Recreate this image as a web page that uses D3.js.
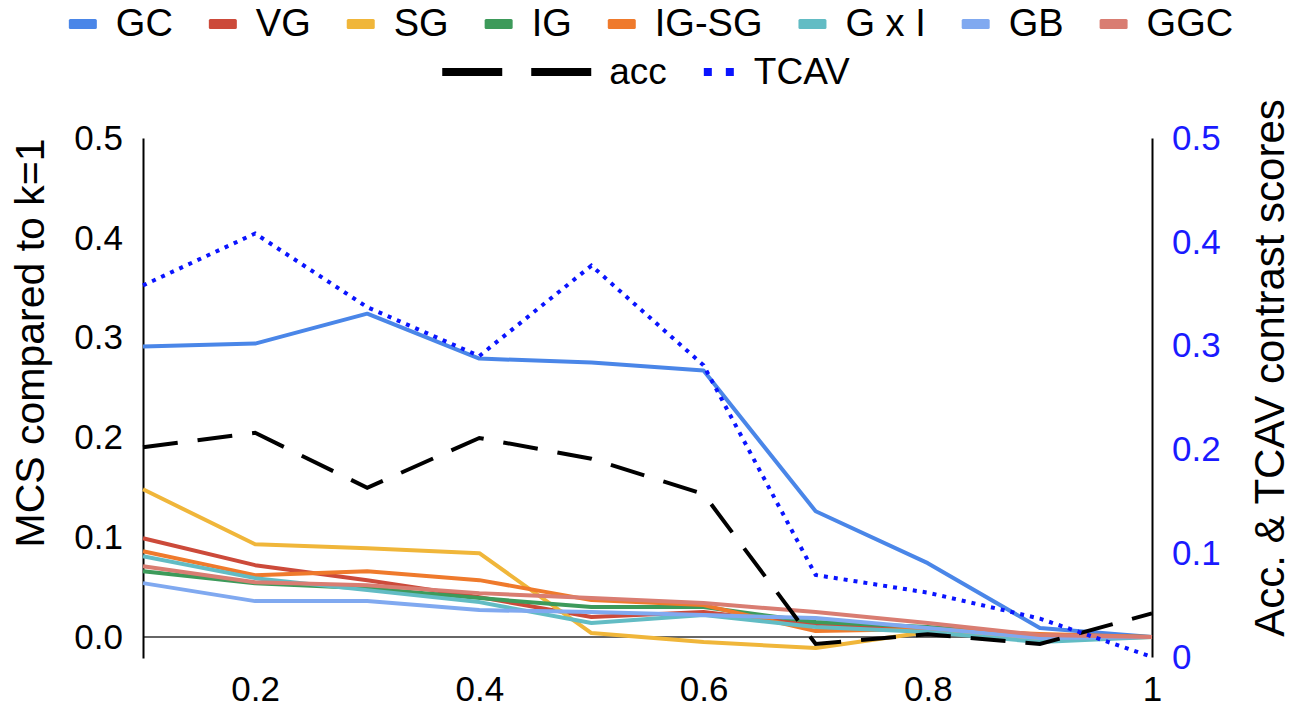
<!DOCTYPE html>
<html><head><meta charset="utf-8">
<script src="https://cdn.jsdelivr.net/npm/d3@7"></script>
<style>
body{margin:0;background:#fff;}
text{font-family:"Liberation Sans",Arial,sans-serif;}
</style></head>
<body><svg id="c" width="1298" height="711"></svg>
<script>
const xs = [0.1,0.2,0.3,0.4,0.5,0.6,0.7,0.8,0.9,1.0];
const GC   = [0.291,0.294,0.324,0.279,0.275,0.267,0.126,0.074,0.009,0.0];
const VG   = [0.099,0.072,0.057,0.040,0.020,0.025,0.012,0.007,0.000,0.0];
const SG   = [0.148,0.093,0.089,0.084,0.004,-0.005,-0.011,0.005,-0.003,0.0];
const IG   = [0.066,0.054,0.049,0.039,0.030,0.030,0.015,0.010,0.002,0.0];
const IGSG = [0.086,0.062,0.066,0.057,0.037,0.032,0.006,0.008,0.003,0.0];
const GxI  = [0.081,0.059,0.047,0.035,0.014,0.022,0.010,0.005,-0.005,0.0];
const GB   = [0.054,0.036,0.036,0.027,0.025,0.022,0.019,0.009,-0.001,0.0];
const GGC  = [0.071,0.055,0.052,0.044,0.039,0.034,0.025,0.014,0.002,0.0];
const ACC  = [0.202,0.216,0.163,0.211,0.191,0.157,0.0125,0.022,0.0125,0.042];
const TCAV = [0.358,0.408,0.337,0.290,0.377,0.281,0.079,0.062,0.037,0.0];

const leftSeries = [
  {name:"GC", values:GC, color:"#4a86e8"},
  {name:"VG", values:VG, color:"#cc4a3a"},
  {name:"SG", values:SG, color:"#f0b63a"},
  {name:"IG", values:IG, color:"#3d9a5a"},
  {name:"IG-SG", values:IGSG, color:"#ef7a2c"},
  {name:"G x I", values:GxI, color:"#62bcc4"},
  {name:"GB", values:GB, color:"#80a9f0"},
  {name:"GGC", values:GGC, color:"#d97d72"}
];
const rightSeries = [
  {name:"acc", values:ACC, color:"#000000", dash:"35,20"},
  {name:"TCAV", values:TCAV, color:"#0a14ff", dash:"4,6"}
];
const leftTicks = [0,0.1,0.2,0.3,0.4,0.5];
const rightTicks = [0,0.1,0.2,0.3,0.4,0.5];
const xTicks = [0.2,0.4,0.6,0.8,1.0];

const svg = d3.select("#c");
const x = d3.scaleLinear().domain([0.1,1.0]).range([143,1152]);
const yL = d3.scaleLinear().domain([-0.021,0.5]).range([658,138]);
const yR = d3.scaleLinear().domain([0,0.5]).range([657,138]);

// zero baseline
svg.append("line").attr("x1",x(0.1)).attr("x2",x(1.0)).attr("y1",yL(0)).attr("y2",yL(0))
  .attr("stroke","#333").attr("stroke-width",1.5);

// axes
const gL = svg.append("g").attr("transform",`translate(${x(0.1)},0)`)
  .call(d3.axisLeft(yL).tickValues(leftTicks).tickFormat(d3.format(".1f")).tickSize(0).tickPadding(20));
const gR = svg.append("g").attr("transform",`translate(${x(1.0)},0)`)
  .call(d3.axisRight(yR).tickValues(rightTicks).tickFormat(d=>d===0?"0":d3.format(".1f")(d)).tickSize(0).tickPadding(20));
const gX = svg.append("g").attr("transform",`translate(0,658)`)
  .call(d3.axisBottom(x).tickValues(xTicks).tickFormat(d=>d===1?"1":d3.format(".1f")(d)).tickSize(0).tickPadding(18));
gX.select(".domain").remove();
[gL,gR].forEach(g=>g.select(".domain").attr("stroke","#000").attr("stroke-width",2));
svg.selectAll(".tick text").attr("font-size",35).attr("font-family","Liberation Sans, Arial, sans-serif").attr("fill","#000");
gR.selectAll(".tick text").attr("fill","#1a1aff");

// titles
svg.append("text").attr("transform","translate(44,343) rotate(-90)").attr("text-anchor","middle")
  .attr("font-size",41).attr("fill","#000").text("MCS compared to k=1");
svg.append("text").attr("transform","translate(1284,368) rotate(-90)").attr("text-anchor","middle")
  .attr("font-size",42).attr("fill","#000").text("Acc. & TCAV contrast scores");

// lines
const lineL = d3.line().x((d,i)=>x(xs[i])).y(d=>yL(d));
const lineR = d3.line().x((d,i)=>x(xs[i])).y(d=>yR(d));
leftSeries.forEach(s=>{
  svg.append("path").attr("d",lineL(s.values)).attr("fill","none")
    .attr("stroke",s.color).attr("stroke-width",4).attr("stroke-linejoin","round");
});
rightSeries.forEach(s=>{
  svg.append("path").attr("d",lineR(s.values)).attr("fill","none")
    .attr("stroke",s.color).attr("stroke-width",4).attr("stroke-dasharray",s.dash);
});

// legend
const lg = svg.append("g");
function row(items, baseline, centerX){
  const g = lg.append("g");
  let cx = 0;
  items.forEach((it,k)=>{
    if(k>0) cx += it.pre;
    if(it.kind==="rect"){
      g.append("rect").attr("x",cx).attr("y",baseline-17).attr("width",28).attr("height",10).attr("rx",1.5).attr("fill",it.color);
      cx += 28;
    } else if(it.kind==="dash"){
      g.append("line").attr("x1",cx).attr("x2",cx+150).attr("y1",baseline-12).attr("y2",baseline-12)
        .attr("stroke","#000").attr("stroke-width",8).attr("stroke-dasharray","60,29");
      cx += 150;
    } else if(it.kind==="dot"){
      g.append("line").attr("x1",cx).attr("x2",cx+30).attr("y1",baseline-12).attr("y2",baseline-12)
        .attr("stroke",it.color).attr("stroke-width",8).attr("stroke-dasharray","8,14");
      cx += 30;
    }
    cx += it.gap;
    const t = g.append("text").attr("x",cx).attr("y",baseline).attr("font-size",it.fs).attr("fill","#000").text(it.name);
    cx += t.node().getComputedTextLength();
  });
  g.attr("transform",`translate(${centerX-cx/2},0)`);
}
row(leftSeries.map(s=>({kind:"rect",color:s.color,name:s.name,gap:19,pre:36,fs:38})),36,651);
row([{kind:"dash",name:"acc",gap:17,pre:0,fs:37},{kind:"dot",color:"#0a14ff",name:"TCAV",gap:20,pre:37,fs:37}],84,646);
</script></body></html>
